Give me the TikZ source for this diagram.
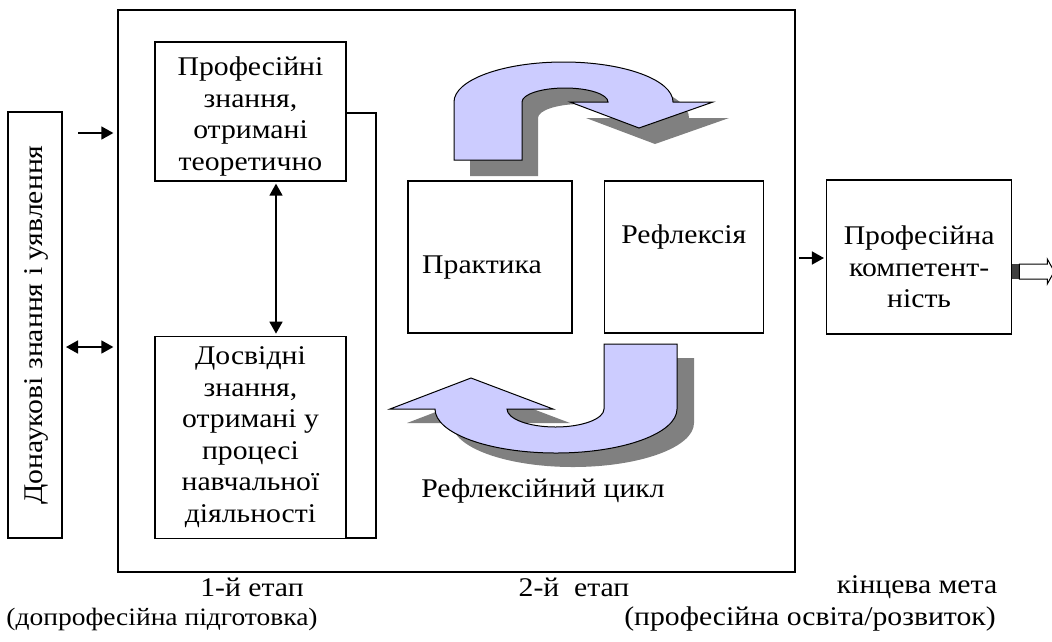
\documentclass[tikz,border=0pt]{standalone}
\usepackage{fontspec}
\setmainfont[FakeStretch=1.1]{Liberation Serif}
\usetikzlibrary{positioning,arrows.meta}
\definecolor{lavender}{RGB}{204,204,255}
\definecolor{shadowgray}{RGB}{128,128,128}

% outline of the two bent arrows of the cycle
\newcommand{\topcurl}{(454,160) -- (454,102)
  .. controls (454,79.9) and (503,62) .. (563.5,62)
  .. controls (624,62) and (673,79.9) .. (673,102)
  -- (713,102) -- (639,128) -- (570,102) -- (608,102)
  .. controls (608,94.3) and (588.7,88) .. (565,88)
  .. controls (541.3,88) and (522,94.3) .. (522,102)
  -- (522,160) -- cycle}
\newcommand{\bottomcurl}{(604,344) -- (677,344) -- (677,409)
  .. controls (677,433.3) and (622.8,453) .. (556,453)
  .. controls (489.2,453) and (435,433.3) .. (435,409)
  -- (390,409) -- (471,378) -- (553,409) -- (507,409)
  .. controls (507,418.9) and (528.7,427) .. (555.5,427)
  .. controls (582.3,427) and (604,418.9) .. (604,409)
  -- cycle}

\begin{document}
\begin{tikzpicture}[x=1pt,y=-1pt,
			box/.style={rectangle, draw=black, line width=1.3pt, fill=white, inner sep=0pt, align=center, font=\fontsize{27}{31.5}\selectfont},
			txt/.style={inner sep=0pt, align=center, font=\fontsize{27}{31.5}\selectfont},
			arr/.style={line width=1.6pt, -{Triangle[length=12pt,width=13pt]}},
			darr/.style={line width=1.6pt, {Triangle[length=12pt,width=13pt]}-{Triangle[length=12pt,width=13pt]}},
			curl/.style={draw=black, line width=1pt, fill=lavender},
			shade/.style={fill=shadowgray},
		]
			\useasboundingbox (0,0) rectangle (1052,641);
		
			%Frame and stage 1
			\node[box, fill=none, minimum width=677pt, minimum height=562pt]	(frame)	at (456.5,291)	{};
			\draw[line width=1.3pt]	(346,113) -- (376,113) -- (376,538) -- (155,538);
			\node[box, minimum width=54pt, minimum height=426pt]	(dona)	at (35,325)	{};
			\node[txt, rotate=90]	(donatxt)	at ([xshift=1pt]dona.center)	{Донаукові знання і уявлення};
			\node[box, minimum width=191pt, minimum height=139pt, label={[txt, yshift=-5pt]center:Професійні\\знання,\\отримані\\теоретично}]	(teor)	at (250.5,111.5)	{};
			\node[box, minimum width=191pt, minimum height=202pt]	(dosv)[below=154pt of teor]	{Досвідні\\знання,\\отримані у\\процесі\\навчальної\\діяльності};
		
			%Stage 2 and goal
			\node[box, minimum width=164pt, minimum height=152pt, label={[txt, xshift=-8pt, yshift=-11pt]center:Практика}]	(prakt)	at (490,257)	{};
			\node[box, minimum width=159pt, minimum height=152pt, label={[txt, yshift=20pt]center:Рефлексія}]	(refl)[right=31pt of prakt]	{};
			\node[box, minimum width=185pt, minimum height=154pt, label={[txt, yshift=-10pt]center:Професійна\\компетент-\\ність}]	(komp)[right=62pt of refl]	{};
		
			%Cycle
			\fill[shade, shift={(16,16)}] \topcurl;
			\draw[curl] \topcurl;
			\fill[shade, shift={(17,14)}] \bottomcurl;
			\draw[curl] \bottomcurl;
			\node[txt]	(cikl)	at (543,491)	{Рефлексійний цикл};
		
			%Captions
			\node[txt]	(etap1)	at (252,587)	{1-й етап};
			\node[txt, font=\fontsize{25}{30}\selectfont]	(pidg)	at (162,619)	{(допрофесійна підготовка)};
			\node[txt]	(etap2)	at (574,587)	{2-й~~етап};
			\node[txt]	(meta)	at (917,587)	{кінцева мета};
			\node[txt]	(osv)	at (810,619)	{(професійна освіта/розвиток)};
		
			%Lines
			\coordinate (in1) at (78,133);
			\coordinate (in2) at (66,347);
			\coordinate (in3) at (799,258);
			\draw[arr, shorten >=4pt]	(in1) -- (in1 -| frame.west);
			\draw[darr, shorten >=4pt]	(in2) -- (in2 -| frame.west);
			\draw[darr, shorten <=2pt, shorten >=2pt]	(teor.south -| 276,0) -- (dosv.north -| 276,0);
			\draw[arr, shorten >=2pt]	(in3) -- (in3 -| komp.west);
			\begin{scope}[shift={(komp.east)}]
				\fill[black!75] (0,7) rectangle (7,22);
				\draw[line width=1pt, fill=white] (7,7) -- (35,7) -- (35,2) -- (42,14.5) -- (35,27) -- (35,22) -- (7,22) -- cycle;
			\end{scope}
		
		\end{tikzpicture}
\end{document}
